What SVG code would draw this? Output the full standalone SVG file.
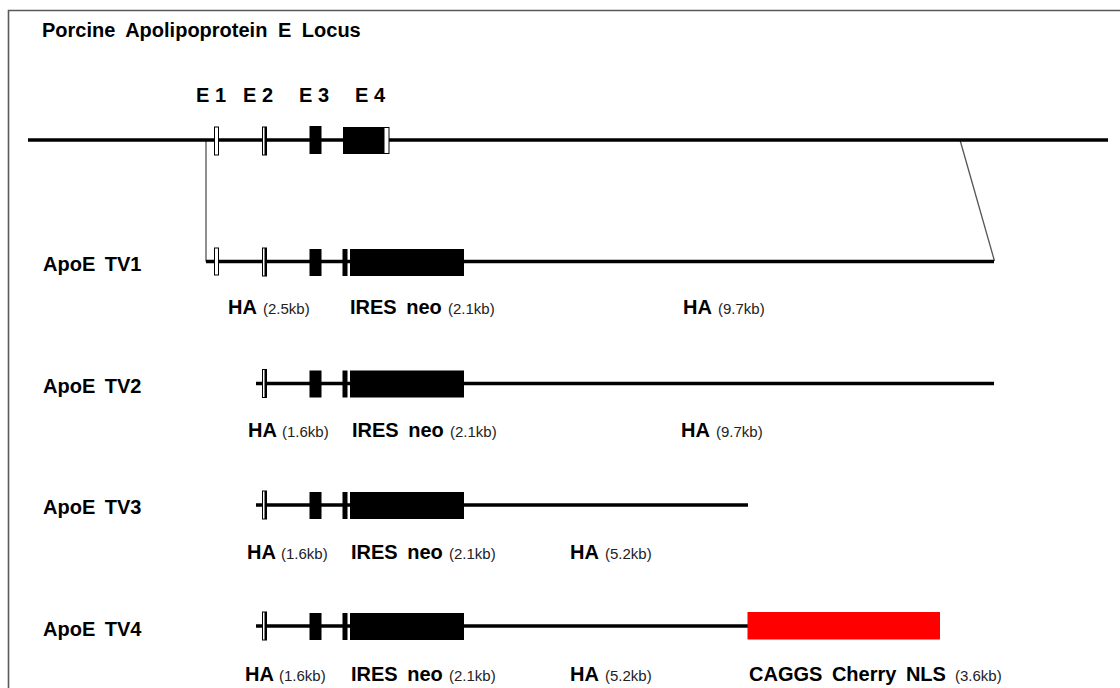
<svg xmlns="http://www.w3.org/2000/svg" width="1120" height="688" viewBox="0 0 1120 688">
  <style>
    .bold { font-family: "Liberation Sans", Arial, sans-serif; font-weight: bold; font-size: 20px; fill: #000; word-spacing: 4px; }
    .exlab { word-spacing: 0; }
    .size { font-family: "Liberation Sans", Arial, sans-serif; font-size: 15px; fill: #222; }
    .dna { stroke: #000; stroke-width: 3.5; fill: none; }
    .guide { stroke: #555; stroke-width: 1.3; fill: none; }
    .exon { fill: #000; }
    .utr { fill: #fff; stroke: #000; stroke-width: 1; }
  </style>
  <defs>
    <!-- targeted allele: E2, E3, truncated E4 and the IRES neo cassette -->
    <g id="cassette">
      <rect class="utr" x="262.5" y="-14" width="4" height="28"/>
      <rect class="exon" x="264.5" y="-14" width="2.5" height="28"/>
      <rect class="exon" x="309.5" y="-13" width="12" height="27"/>
      <rect class="exon" x="342.5" y="-13" width="5" height="27"/>
      <rect class="exon" x="350" y="-13" width="114" height="27"/>
    </g>
  </defs>

  <rect width="1120" height="688" fill="#fff"/>
  <path d="M1120 10.5 H8.5 V688" stroke="#5a5a5a" stroke-width="1.6" fill="none"/>

  <text class="bold" x="42" y="37" font-size="19.5" style="word-spacing:5px">Porcine Apolipoprotein E Locus</text>

  <g id="connectors">
    <path class="guide" d="M206 140 V261 H212"/>
    <path class="guide" d="M960 140 L994.5 261"/>
  </g>

  <g id="locus">
    <line class="dna" x1="28" y1="140" x2="1108" y2="140"/>
    <rect class="utr" x="214.5" y="127" width="4" height="28"/>
    <rect class="utr" x="262.5" y="127" width="4" height="28"/>
    <rect class="exon" x="264.5" y="127" width="2.5" height="28"/>
    <rect class="exon" x="309.5" y="126" width="12" height="28"/>
    <rect class="exon" x="343" y="127" width="41" height="27"/>
    <rect class="utr" x="384" y="127.5" width="5" height="26"/>
    <text class="bold exlab" x="196" y="102">E 1</text>
    <text class="bold exlab" x="243" y="102">E 2</text>
    <text class="bold exlab" x="299" y="102">E 3</text>
    <text class="bold exlab" x="355" y="102">E 4</text>
  </g>

  <g id="tv1">
    <text class="bold" x="43" y="271">ApoE TV1</text>
    <line class="dna" x1="206" y1="261.5" x2="994" y2="261.5" stroke-width="3"/>
    <rect class="utr" x="214.5" y="248" width="4" height="27"/>
    <use href="#cassette" transform="translate(0 262)"/>
    <text x="228" y="314"><tspan class="bold">HA</tspan><tspan class="size" x="263">(2.5kb)</tspan></text>
    <text x="350" y="314"><tspan class="bold">IRES neo</tspan><tspan class="size" x="448">(2.1kb)</tspan></text>
    <text x="683" y="314"><tspan class="bold">HA</tspan><tspan class="size" x="718">(9.7kb)</tspan></text>
  </g>

  <g id="tv2">
    <text class="bold" x="43" y="392.5">ApoE TV2</text>
    <line class="dna" x1="256" y1="383.5" x2="994" y2="383.5" stroke-width="3"/>
    <use href="#cassette" transform="translate(0 383.5)"/>
    <text x="248" y="436.5"><tspan class="bold">HA</tspan><tspan class="size" x="282">(1.6kb)</tspan></text>
    <text x="352" y="436.5"><tspan class="bold">IRES neo</tspan><tspan class="size" x="450">(2.1kb)</tspan></text>
    <text x="681" y="436.5"><tspan class="bold">HA</tspan><tspan class="size" x="716">(9.7kb)</tspan></text>
  </g>

  <g id="tv3">
    <text class="bold" x="43" y="514">ApoE TV3</text>
    <line class="dna" x1="256" y1="505" x2="748" y2="505" stroke-width="3"/>
    <use href="#cassette" transform="translate(0 505)"/>
    <text x="247" y="558.5"><tspan class="bold">HA</tspan><tspan class="size" x="281">(1.6kb)</tspan></text>
    <text x="351" y="558.5"><tspan class="bold">IRES neo</tspan><tspan class="size" x="449">(2.1kb)</tspan></text>
    <text x="570" y="558.5"><tspan class="bold">HA</tspan><tspan class="size" x="605">(5.2kb)</tspan></text>
  </g>

  <g id="tv4">
    <text class="bold" x="43" y="635.5">ApoE TV4</text>
    <line class="dna" x1="256" y1="626" x2="750" y2="626" stroke-width="3"/>
    <use href="#cassette" transform="translate(0 626)"/>
    <rect x="747.5" y="612" width="192.5" height="27.5" fill="#ff0000"/>
    <text x="245" y="681"><tspan class="bold">HA</tspan><tspan class="size" x="279">(1.6kb)</tspan></text>
    <text x="351" y="681"><tspan class="bold">IRES neo</tspan><tspan class="size" x="449">(2.1kb)</tspan></text>
    <text x="570" y="681"><tspan class="bold">HA</tspan><tspan class="size" x="605">(5.2kb)</tspan></text>
    <text x="749" y="681"><tspan class="bold">CAGGS Cherry NLS</tspan><tspan class="size" x="955">(3.6kb)</tspan></text>
  </g>
</svg>
